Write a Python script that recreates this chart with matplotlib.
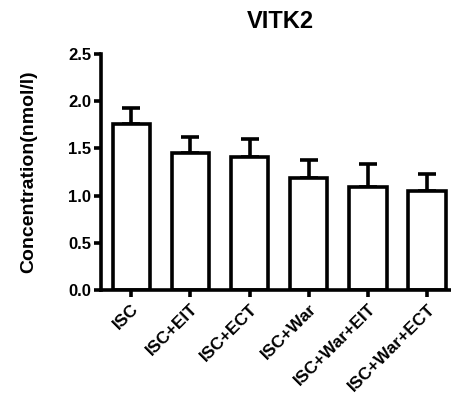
import matplotlib
matplotlib.use('Agg')
import matplotlib.pyplot as plt
import numpy as np

plt.rcParams['font.family'] = ['Liberation Sans', 'DejaVu Sans']
plt.rcParams['font.weight'] = 'bold'

groups = ['ISC', 'ISC+EIT', 'ISC+ECT', 'ISC+War', 'ISC+War+EIT', 'ISC+War+ECT']
means = [1.76, 1.45, 1.41, 1.19, 1.09, 1.05]
sems = [0.17, 0.17, 0.19, 0.19, 0.24, 0.18]
yticks = [0.0, 0.5, 1.0, 1.5, 2.0, 2.5]

fig = plt.figure(figsize=(4.52, 3.98), dpi=100)
ax = fig.add_axes([101 / 452, 1 - 290 / 398, 351 / 452, 236 / 398])

x = np.arange(len(groups))
lw = 2.6
ax.bar(x, means, width=0.63, color='white', edgecolor='black', linewidth=lw, zorder=2)
ax.errorbar(x, means, yerr=[np.zeros(len(sems)), sems], fmt='none', ecolor='black',
            elinewidth=lw, capsize=6.5, capthick=lw, zorder=1)

ax.set_xlim(-0.51, 5.42)
ax.set_ylim(0, 2.5)
ax.set_yticks(yticks)
ax.set_yticklabels(['%.1f' % t for t in yticks], fontsize=12, fontweight='bold')
ax.set_xticks(x)
ax.set_xticklabels(groups, rotation=45, ha='right', rotation_mode='anchor',
                   fontsize=12.5, fontweight='bold')

for s in ['top', 'right']:
    ax.spines[s].set_visible(False)
for s in ['left', 'bottom']:
    ax.spines[s].set_linewidth(lw)
ax.tick_params(width=lw, length=5, pad=2)
ax.tick_params(axis='x', pad=3)

ax.set_ylabel('Concentration(nmol/l)', fontsize=14, fontweight='bold', labelpad=22)
ax.set_title('VITK2', fontsize=17, fontweight='bold', pad=19, x=0.51)

fig.savefig('out.png', dpi=100)
